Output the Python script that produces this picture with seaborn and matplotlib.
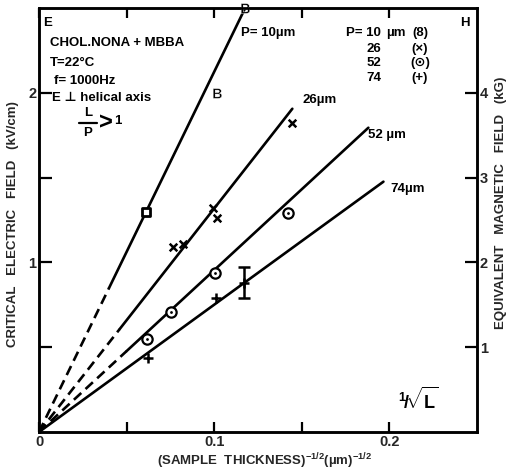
import numpy as np
import pandas as pd
import matplotlib
matplotlib.use('Agg')
import matplotlib.pyplot as plt
import seaborn as sns

# ---------------- data ----------------
pitches = [10, 26, 52, 74]
line_labels = ['P= 10µm', '26µm', '52 µm', '74µm']
line_end_x = [0.1177, 0.1446, 0.1880, 0.1966]
line_end_y = [2.50, 1.906, 1.794, 1.476]
dash_end_x = [0.040, 0.046, 0.050, 0.0]

p10_sq_x = [0.0611]
p10_sq_y = [1.30]
p10_b_x = [0.1017, 0.1177]
p10_b_y = [2.00, 2.50]
p26_x = [0.0766, 0.0823, 0.0994, 0.1017, 0.1446]
p26_y = [1.09, 1.11, 1.318, 1.26, 1.82]
p52_x = [0.0617, 0.0754, 0.1006, 0.1423]
p52_y = [0.547, 0.706, 0.94, 1.29]
p74_x = [0.0623, 0.1010, 0.1170]
p74_y = [0.435, 0.788, 0.880]
err_x = [0.1170]
err_y = [0.880]
err_val = [0.09]

x_ticks = [0, 0.05, 0.1, 0.15, 0.2]
x_ticklabels = ['0', '', '0.1', '', '0.2']
e_ticks = [0.5, 1, 1.5, 2]
e_ticklabels = ['', '1', '', '2']
h_ticks = [1, 2, 3, 4]
h_ticklabels = ['1', '2', '3', '4']

legend_nums = ['P= 10', '26', '52', '74']
legend_syms = ['(8)', '(×)', '(⊙)', '(+)']

info_lines = ['CHOL.NONA + MBBA', 'T=22°C', 'f= 1000Hz', 'E ⊥ helical axis']

# ---------------- style ----------------
sns.set_theme(style='white')
plt.rcParams['font.family'] = ['Liberation Sans', 'DejaVu Sans']
plt.rcParams['font.weight'] = 'bold'
plt.rcParams['mathtext.fontset'] = 'custom'
plt.rcParams['mathtext.rm'] = 'Liberation Sans:bold'
plt.rcParams['mathtext.bf'] = 'Liberation Sans:bold'
plt.rcParams['mathtext.it'] = 'Liberation Sans:bold'
plt.rcParams['mathtext.default'] = 'bf'

fig = plt.figure(figsize=(5.12, 4.71), dpi=100)
ax = fig.add_axes([39 / 512, 39 / 471, 438 / 512, 424 / 471])
ax.set_xlim(0, 0.25)
ax.set_ylim(0, 2.5)

lw = 1.9
for i, p in enumerate(pitches):
    x1 = dash_end_x[i]
    x2 = line_end_x[i]
    y2 = line_end_y[i]
    y1 = y2 * x1 / x2
    if x1 > 0:
        dseg = pd.DataFrame({'x': [0.0, x1], 'y': [0.0, y1]})
        sns.lineplot(data=dseg, x='x', y='y', ax=ax, color='black', lw=lw,
                     sort=False, linestyle=(0, (3.8, 2.2)))
    sseg = pd.DataFrame({'x': [x1, x2], 'y': [y1, y2]})
    sns.lineplot(data=sseg, x='x', y='y', ax=ax, color='black', lw=lw, sort=False)

# markers
sns.scatterplot(x=p10_sq_x, y=p10_sq_y, ax=ax, marker='s', s=40,
                facecolor='white', edgecolor='black', linewidth=2, zorder=5)
sns.scatterplot(x=p10_b_x, y=p10_b_y, ax=ax, marker='$B$', s=50,
                color='black', linewidth=0.3, zorder=5, clip_on=False)
sns.scatterplot(x=p26_x, y=p26_y, ax=ax, marker='x', s=30,
                color='black', linewidth=1.8, zorder=5)
sns.scatterplot(x=p52_x, y=p52_y, ax=ax, marker='o', s=55,
                facecolor='white', edgecolor='black', linewidth=1.6, zorder=5)
sns.scatterplot(x=p52_x, y=p52_y, ax=ax, marker='o', s=4,
                color='black', linewidth=0, zorder=6)
sns.scatterplot(x=p74_x, y=p74_y, ax=ax, marker='+', s=45,
                color='black', linewidth=1.8, zorder=5)
ax.errorbar(err_x, err_y, yerr=err_val, fmt='none', ecolor='black',
            elinewidth=1.8, capsize=4, capthick=1.8, zorder=5)

# axes styling
for s in ax.spines.values():
    s.set_linewidth(1.8)
    s.set_color('black')
ax.set_xticks(x_ticks)
ax.set_xticklabels(x_ticklabels, fontsize=10.5, fontweight='bold')
ax.set_yticks(e_ticks)
ax.set_yticklabels(e_ticklabels, fontsize=10.5, fontweight='bold')
ax.tick_params(axis='both', which='both', direction='in', width=1.6,
               length=7, color='black', pad=2,
               top=True, bottom=True, left=True, right=False)
ax.tick_params(axis='y', length=9)
ax.set_xlabel(r'(SAMPLE  THICKNESS)$^{-1/2}$(µm)$^{-1/2}$', fontsize=9.5,
              fontweight='bold')
ax.xaxis.set_label_coords(0.516, -0.045)
ax.set_ylabel('CRITICAL   ELECTRIC   FIELD   (kV/cm)', fontsize=9.5,
              fontweight='bold')
ax.yaxis.set_label_coords(-0.046, 0.49)

ax2 = ax.twinx()
ax2.set_ylim(0, 5)
ax2.set_yticks(h_ticks)
ax2.set_yticklabels(h_ticklabels, fontsize=10.5, fontweight='bold')
ax2.tick_params(axis='y', direction='in', width=1.6, length=9, pad=2,
                color='black', left=False, right=True)
for s in ax2.spines.values():
    s.set_linewidth(1.8)
    s.set_color('black')
ax2.set_ylabel('EQUIVALENT   MAGNETIC   FIELD   (kG)', fontsize=9.5,
               fontweight='bold', rotation=90)
ax2.yaxis.set_label_coords(1.041, 0.54)
ax2.grid(False)
ax.grid(False)

tkw = dict(fontsize=9.5, fontweight='bold', color='black')
ax.text(0.0023, 2.41, 'E', va='center', ha='left', **tkw)
ax.text(0.2406, 2.41, 'H', va='center', ha='left', **tkw)
info_y = [2.294, 2.176, 2.07, 1.97]
info_x = [0.0063, 0.0063, 0.0085, 0.0074]
for t, xx, yy in zip(info_lines, info_x, info_y):
    ax.text(xx, yy, t, va='center', ha='left', **tkw)

# L/P > 1 (stacked fraction)
ax.text(0.0280, 1.880, 'L', va='center', ha='center', **tkw)
ax.text(0.0280, 1.765, 'P', va='center', ha='center', **tkw)
ax.plot([0.0230, 0.0330], [1.822, 1.822], color='black', lw=1.6)
ax.text(0.0345, 1.822, '>', va='center', ha='left', fontsize=17,
        fontweight='bold', color='black')
ax.text(0.0430, 1.835, '1', va='center', ha='left', **tkw)

label_x = [0.1154, 0.1503, 0.1880, 0.2006]
label_y = [2.353, 1.959, 1.753, 1.435]
for t, xx, yy in zip(line_labels, label_x, label_y):
    ax.text(xx, yy, t, va='center', ha='left', **tkw)

leg_y = [2.353, 2.259, 2.176, 2.088]
for i, (n, sy) in enumerate(zip(legend_nums, legend_syms)):
    ax.text(0.1954, leg_y[i], n, va='center', ha='right', **tkw)
    ax.text(0.2175, leg_y[i], sy, va='center', ha='center', **tkw)
ax.text(0.1980, leg_y[0], 'µm', va='center', ha='left', **tkw)

ax.text(0.2166, 0.19, r'${}^{1}\!/\!\sqrt{L}$', va='center', ha='center',
        fontsize=13, color='black')

fig.savefig('out.png', dpi=100)
